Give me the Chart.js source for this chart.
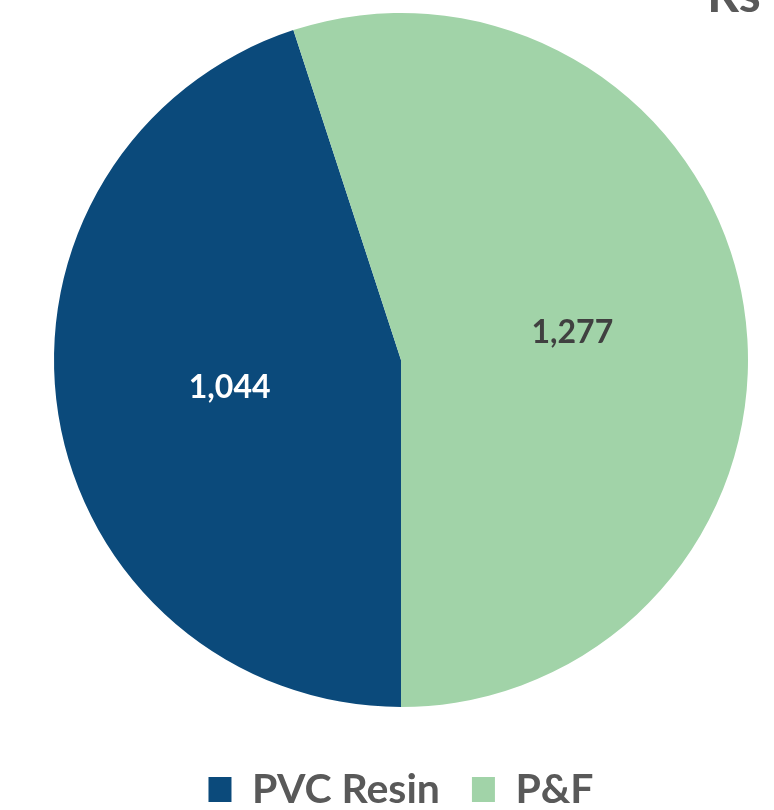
<!DOCTYPE html>
<html>
<head>
<meta charset="utf-8">
<script src="https://cdn.jsdelivr.net/npm/chart.js@4"></script>
<style>
  html, body { margin: 0; padding: 0; background: #fff; }
  #wrap { width: 774px; height: 810px; }
</style>
</head>
<body>
<div id="wrap"><canvas id="pieChart"></canvas></div>
<script>
// segments and values
var segments = ['PVC Resin', 'P&F'];
var revenue = [1044, 1277];
var segColors = ['#0B4A7B', '#A1D3A8'];
var labelColors = ['#FFFFFF', '#404040'];
var titleText = 'Rs';

var ctx = document.getElementById("pieChart");

// write the value inside each slice
const sliceLabels = {
    id: 'sliceLabels',
    afterDatasetsDraw: (chart) => {
        let c = chart.ctx;
        let meta = chart.getDatasetMeta(0);
        c.save();
        c.font = 'bold 32px Lato';
        c.textAlign = 'center';
        c.textBaseline = 'middle';
        meta.data.forEach((arc, i) => {
            let p = arc.tooltipPosition();
            c.fillStyle = labelColors[i];
            c.fillText(revenue[i].toLocaleString('en-US'), p.x, p.y);
        });
        c.restore();
    }
};

// the cut-off heading in the top right corner
const cornerTitle = {
    id: 'cornerTitle',
    afterDraw: (chart) => {
        let c = chart.ctx;
        c.save();
        c.font = 'bold 50px Lato';
        c.fillStyle = '#595959';
        c.textAlign = 'left';
        c.textBaseline = 'alphabetic';
        c.fillText(titleText, 707, 12);
        c.restore();
    }
};

var pieChart = new Chart(ctx, {
    type: 'pie',
    data: {
        labels: segments,
        datasets: [
            {
                data: revenue,
                backgroundColor: segColors,
                borderWidth: 0
            }
        ]
    },
    options: {
        responsive: true,
        maintainAspectRatio: false,
        animation: false,
        rotation: 180,
        layout: {
            padding: { top: 13, left: 28, right: 0, bottom: -10 }
        },
        plugins: {
            tooltip: { enabled: false },
            legend: {
                position: 'bottom',
                // empty title only used as a spacer above the legend row
                title: {
                    display: true,
                    text: '',
                    font: { size: 10 },
                    padding: { top: 18, bottom: 0 }
                },
                labels: {
                    boxWidth: 23,
                    boxHeight: 25,
                    padding: 32,
                    color: '#595959',
                    font: { family: 'Lato', weight: 'bold', size: 41 }
                }
            }
        }
    },
    plugins: [sliceLabels, cornerTitle]
});
</script>
</body>
</html>
